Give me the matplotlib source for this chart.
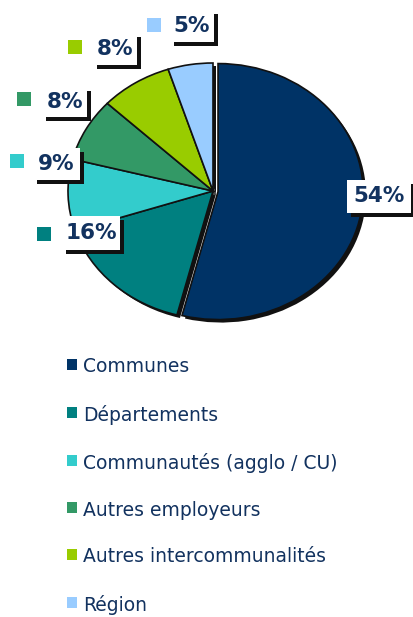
import matplotlib
matplotlib.use("Agg")
import matplotlib.pyplot as plt
from matplotlib.patches import Rectangle

# ---------------------------------------------------------------------------
# Data
# ---------------------------------------------------------------------------
categories = [
    "Communes",
    "Départements",
    "Communautés (agglo / CU)",
    "Autres employeurs",
    "Autres intercommunalités",
    "Région",
]
shares = [54, 16, 9, 8, 8, 5]
colors = ["#003366", "#008080", "#33cccc", "#339966", "#99cc00", "#99ccff"]

TEXT_COL = "#12325f"
W, H = 413, 617

fig = plt.figure(figsize=(W / 100, H / 100), dpi=100)


def fx(x):
    return x / W


def fy(y):
    return 1 - y / H


# Pie (slightly squashed ellipse)
cx, cy, rx, ry = 213, 191, 145, 128
ax = fig.add_axes([fx(cx - rx), fy(cy + ry), 2 * rx / W, 2 * ry / H])
explode = [0.035, 0, 0, 0, 0, 0]
ax.pie(shares, explode=explode, startangle=90, counterclock=False,
       colors=["#111111"] * len(shares), center=(3 / rx, -3 / ry),
       wedgeprops=dict(lw=0))
ax.pie(shares, explode=explode, startangle=90, counterclock=False,
       colors=colors, wedgeprops=dict(edgecolor="#111111", lw=1.2))
ax.set_aspect("auto")
ax.set_xlim(-1, 1)
ax.set_ylim(-1, 1)
ax.axis("off")

# Label boxes: (x0, y0, x1, y1) in pixels, square (x, y) or None
boxes = [
    (347, 180, 411, 213, None),
    (62, 216, 120, 250, (37, 227)),
    (33, 148, 80, 180, (10, 154)),
    (42, 87, 87, 117, (17, 92)),
    (93, 33, 137, 65, (68, 40)),
    (170, 10, 214, 42, (147, 18)),
]
for (x0, y0, x1, y1, sq), val, col in zip(boxes, shares, colors):
    w, h = x1 - x0, y1 - y0
    fig.add_artist(Rectangle((fx(x0 + 4), fy(y1 + 4)), w / W, h / H,
                             transform=fig.transFigure, fc="#111111", ec="none"))
    fig.add_artist(Rectangle((fx(x0), fy(y1)), w / W, h / H,
                             transform=fig.transFigure, fc="white", ec="none"))
    fig.text(fx((x0 + x1) / 2), fy((y0 + y1) / 2), f"{val}%",
             ha="center", va="center", fontsize=15.5, fontweight="bold",
             color=TEXT_COL)
    if sq is not None:
        fig.add_artist(Rectangle((fx(sq[0]), fy(sq[1] + 14)), 14 / W, 14 / H,
                                 transform=fig.transFigure, fc=col, ec="none"))

# Legend
row_y = [367, 415, 463, 510, 557, 605]
for y, name, col in zip(row_y, categories, colors):
    fig.add_artist(Rectangle((fx(67), fy(y + 3)), 10 / W, 11 / H,
                             transform=fig.transFigure, fc=col, ec="none"))
    fig.text(fx(83), fy(y), name, ha="left", va="center",
             fontsize=13.5, color=TEXT_COL)

fig.savefig("out.png", dpi=100)
